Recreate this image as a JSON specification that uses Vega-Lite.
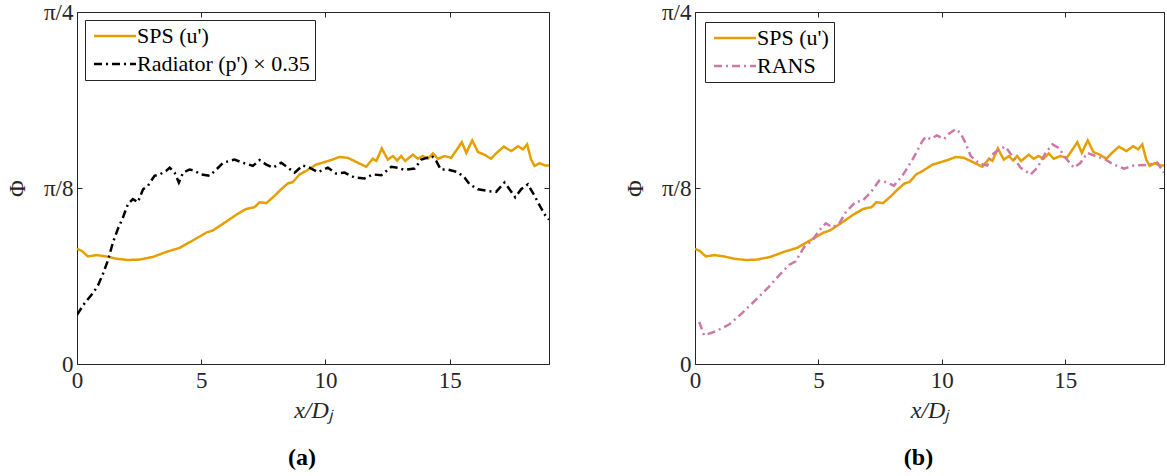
{
  "$schema": "https://vega.github.io/schema/vega-lite/v6.json",
  "padding": {"left": 5, "top": 0, "right": 0, "bottom": 0},
  "background": "white",
  "bounds": "flush",
  "spacing": 146,
  "config": {
    "font": "Times New Roman, Times, serif",
    "view": {"stroke": "#262626", "strokeWidth": 1},
    "axis": {
      "grid": false, "domain": false, "tickColor": "#262626", "tickSize": -5, "tickWidth": 1,
      "labelFont": "Times New Roman, Times, serif", "labelFontSize": 23, "labelColor": "#262626",
      "labelFlush": false, "labelOverlap": false,
      "titleFont": "Times New Roman, Times, serif", "titleFontWeight": "normal", "titleColor": "#262626"
    },
    "legend": {
      "orient": "top-left", "offset": 8, "strokeColor": "#262626", "fillColor": "white",
      "padding": 5, "labelFont": "Times New Roman, Times, serif", "labelFontSize": 22, "labelColor": "#000000",
      "symbolType": "M-1,0H5", "symbolSize": 196, "symbolStrokeWidth": 2.5, "labelOffset": 25,
      "rowPadding": 6, "title": null, "labelLimit": 400
    },
    "title": {"font": "Times New Roman, Times, serif", "fontSize": 24, "fontWeight": "bold", "color": "#000000"}
  },
  "datasets": {
    "lines": [
      {"series": "SPS (u')", "x": 0.0, "phi": 0.257},
      {"series": "SPS (u')", "x": 0.2, "phi": 0.252},
      {"series": "SPS (u')", "x": 0.44, "phi": 0.240},
      {"series": "SPS (u')", "x": 0.78, "phi": 0.243},
      {"series": "SPS (u')", "x": 1.18, "phi": 0.240},
      {"series": "SPS (u')", "x": 1.58, "phi": 0.235},
      {"series": "SPS (u')", "x": 2.05, "phi": 0.232},
      {"series": "SPS (u')", "x": 2.52, "phi": 0.233},
      {"series": "SPS (u')", "x": 3.06, "phi": 0.239},
      {"series": "SPS (u')", "x": 3.59, "phi": 0.250},
      {"series": "SPS (u')", "x": 4.13, "phi": 0.259},
      {"series": "SPS (u')", "x": 4.67, "phi": 0.276},
      {"series": "SPS (u')", "x": 5.2, "phi": 0.293},
      {"series": "SPS (u')", "x": 5.47, "phi": 0.298},
      {"series": "SPS (u')", "x": 5.88, "phi": 0.313},
      {"series": "SPS (u')", "x": 6.41, "phi": 0.333},
      {"series": "SPS (u')", "x": 6.81, "phi": 0.346},
      {"series": "SPS (u')", "x": 7.15, "phi": 0.350},
      {"series": "SPS (u')", "x": 7.35, "phi": 0.361},
      {"series": "SPS (u')", "x": 7.62, "phi": 0.359},
      {"series": "SPS (u')", "x": 7.95, "phi": 0.375},
      {"series": "SPS (u')", "x": 8.22, "phi": 0.390},
      {"series": "SPS (u')", "x": 8.49, "phi": 0.403},
      {"series": "SPS (u')", "x": 8.69, "phi": 0.406},
      {"series": "SPS (u')", "x": 8.96, "phi": 0.423},
      {"series": "SPS (u')", "x": 9.23, "phi": 0.431},
      {"series": "SPS (u')", "x": 9.63, "phi": 0.445},
      {"series": "SPS (u')", "x": 10.23, "phi": 0.455},
      {"series": "SPS (u')", "x": 10.57, "phi": 0.462},
      {"series": "SPS (u')", "x": 10.9, "phi": 0.460},
      {"series": "SPS (u')", "x": 11.31, "phi": 0.449},
      {"series": "SPS (u')", "x": 11.64, "phi": 0.440},
      {"series": "SPS (u')", "x": 11.91, "phi": 0.458},
      {"series": "SPS (u')", "x": 12.05, "phi": 0.453},
      {"series": "SPS (u')", "x": 12.27, "phi": 0.481},
      {"series": "SPS (u')", "x": 12.51, "phi": 0.456},
      {"series": "SPS (u')", "x": 12.72, "phi": 0.464},
      {"series": "SPS (u')", "x": 12.89, "phi": 0.454},
      {"series": "SPS (u')", "x": 13.05, "phi": 0.464},
      {"series": "SPS (u')", "x": 13.21, "phi": 0.453},
      {"series": "SPS (u')", "x": 13.52, "phi": 0.467},
      {"series": "SPS (u')", "x": 13.72, "phi": 0.458},
      {"series": "SPS (u')", "x": 13.92, "phi": 0.464},
      {"series": "SPS (u')", "x": 14.12, "phi": 0.458},
      {"series": "SPS (u')", "x": 14.33, "phi": 0.470},
      {"series": "SPS (u')", "x": 14.53, "phi": 0.458},
      {"series": "SPS (u')", "x": 14.8, "phi": 0.464},
      {"series": "SPS (u')", "x": 15.06, "phi": 0.460},
      {"series": "SPS (u')", "x": 15.3, "phi": 0.479},
      {"series": "SPS (u')", "x": 15.49, "phi": 0.495},
      {"series": "SPS (u')", "x": 15.67, "phi": 0.471},
      {"series": "SPS (u')", "x": 15.91, "phi": 0.499},
      {"series": "SPS (u')", "x": 16.14, "phi": 0.473},
      {"series": "SPS (u')", "x": 16.4, "phi": 0.467},
      {"series": "SPS (u')", "x": 16.67, "phi": 0.458},
      {"series": "SPS (u')", "x": 16.87, "phi": 0.470},
      {"series": "SPS (u')", "x": 17.18, "phi": 0.485},
      {"series": "SPS (u')", "x": 17.48, "phi": 0.475},
      {"series": "SPS (u')", "x": 17.75, "phi": 0.486},
      {"series": "SPS (u')", "x": 17.95, "phi": 0.479},
      {"series": "SPS (u')", "x": 18.12, "phi": 0.490},
      {"series": "SPS (u')", "x": 18.28, "phi": 0.456},
      {"series": "SPS (u')", "x": 18.42, "phi": 0.442},
      {"series": "SPS (u')", "x": 18.62, "phi": 0.448},
      {"series": "SPS (u')", "x": 18.84, "phi": 0.443},
      {"series": "SPS (u')", "x": 19.0, "phi": 0.443},

      {"series": "Radiator (p') × 0.35", "x": 0.0, "phi": 0.110},
      {"series": "Radiator (p') × 0.35", "x": 0.31, "phi": 0.136},
      {"series": "Radiator (p') × 0.35", "x": 0.64, "phi": 0.158},
      {"series": "Radiator (p') × 0.35", "x": 0.85, "phi": 0.176},
      {"series": "Radiator (p') × 0.35", "x": 1.05, "phi": 0.202},
      {"series": "Radiator (p') × 0.35", "x": 1.25, "phi": 0.232},
      {"series": "Radiator (p') × 0.35", "x": 1.45, "phi": 0.272},
      {"series": "Radiator (p') × 0.35", "x": 1.65, "phi": 0.302},
      {"series": "Radiator (p') × 0.35", "x": 1.85, "phi": 0.327},
      {"series": "Radiator (p') × 0.35", "x": 2.05, "phi": 0.357},
      {"series": "Radiator (p') × 0.35", "x": 2.25, "phi": 0.368},
      {"series": "Radiator (p') × 0.35", "x": 2.45, "phi": 0.361},
      {"series": "Radiator (p') × 0.35", "x": 2.66, "phi": 0.390},
      {"series": "Radiator (p') × 0.35", "x": 2.86, "phi": 0.398},
      {"series": "Radiator (p') × 0.35", "x": 3.12, "phi": 0.420},
      {"series": "Radiator (p') × 0.35", "x": 3.33, "phi": 0.423},
      {"series": "Radiator (p') × 0.35", "x": 3.59, "phi": 0.431},
      {"series": "Radiator (p') × 0.35", "x": 3.73, "phi": 0.438},
      {"series": "Radiator (p') × 0.35", "x": 3.93, "phi": 0.427},
      {"series": "Radiator (p') × 0.35", "x": 4.1, "phi": 0.405},
      {"series": "Radiator (p') × 0.35", "x": 4.27, "phi": 0.427},
      {"series": "Radiator (p') × 0.35", "x": 4.53, "phi": 0.434},
      {"series": "Radiator (p') × 0.35", "x": 4.73, "phi": 0.431},
      {"series": "Radiator (p') × 0.35", "x": 5.0, "phi": 0.423},
      {"series": "Radiator (p') × 0.35", "x": 5.34, "phi": 0.420},
      {"series": "Radiator (p') × 0.35", "x": 5.61, "phi": 0.434},
      {"series": "Radiator (p') × 0.35", "x": 5.88, "phi": 0.449},
      {"series": "Radiator (p') × 0.35", "x": 6.14, "phi": 0.453},
      {"series": "Radiator (p') × 0.35", "x": 6.34, "phi": 0.456},
      {"series": "Radiator (p') × 0.35", "x": 6.68, "phi": 0.449},
      {"series": "Radiator (p') × 0.35", "x": 7.08, "phi": 0.442},
      {"series": "Radiator (p') × 0.35", "x": 7.35, "phi": 0.455},
      {"series": "Radiator (p') × 0.35", "x": 7.62, "phi": 0.445},
      {"series": "Radiator (p') × 0.35", "x": 7.89, "phi": 0.438},
      {"series": "Radiator (p') × 0.35", "x": 8.22, "phi": 0.449},
      {"series": "Radiator (p') × 0.35", "x": 8.49, "phi": 0.438},
      {"series": "Radiator (p') × 0.35", "x": 8.76, "phi": 0.427},
      {"series": "Radiator (p') × 0.35", "x": 9.09, "phi": 0.443},
      {"series": "Radiator (p') × 0.35", "x": 9.36, "phi": 0.438},
      {"series": "Radiator (p') × 0.35", "x": 9.7, "phi": 0.428},
      {"series": "Radiator (p') × 0.35", "x": 10.1, "phi": 0.438},
      {"series": "Radiator (p') × 0.35", "x": 10.43, "phi": 0.425},
      {"series": "Radiator (p') × 0.35", "x": 10.77, "phi": 0.427},
      {"series": "Radiator (p') × 0.35", "x": 11.17, "phi": 0.416},
      {"series": "Radiator (p') × 0.35", "x": 11.58, "phi": 0.414},
      {"series": "Radiator (p') × 0.35", "x": 11.91, "phi": 0.423},
      {"series": "Radiator (p') × 0.35", "x": 12.25, "phi": 0.421},
      {"series": "Radiator (p') × 0.35", "x": 12.65, "phi": 0.440},
      {"series": "Radiator (p') × 0.35", "x": 12.92, "phi": 0.438},
      {"series": "Radiator (p') × 0.35", "x": 13.19, "phi": 0.433},
      {"series": "Radiator (p') × 0.35", "x": 13.59, "phi": 0.436},
      {"series": "Radiator (p') × 0.35", "x": 13.86, "phi": 0.456},
      {"series": "Radiator (p') × 0.35", "x": 14.29, "phi": 0.464},
      {"series": "Radiator (p') × 0.35", "x": 14.46, "phi": 0.453},
      {"series": "Radiator (p') × 0.35", "x": 14.64, "phi": 0.434},
      {"series": "Radiator (p') × 0.35", "x": 14.93, "phi": 0.434},
      {"series": "Radiator (p') × 0.35", "x": 15.33, "phi": 0.428},
      {"series": "Radiator (p') × 0.35", "x": 15.6, "phi": 0.416},
      {"series": "Radiator (p') × 0.35", "x": 15.8, "phi": 0.401},
      {"series": "Radiator (p') × 0.35", "x": 16.14, "phi": 0.390},
      {"series": "Radiator (p') × 0.35", "x": 16.54, "phi": 0.386},
      {"series": "Radiator (p') × 0.35", "x": 16.87, "phi": 0.384},
      {"series": "Radiator (p') × 0.35", "x": 17.21, "phi": 0.405},
      {"series": "Radiator (p') × 0.35", "x": 17.41, "phi": 0.390},
      {"series": "Radiator (p') × 0.35", "x": 17.64, "phi": 0.372},
      {"series": "Radiator (p') × 0.35", "x": 17.88, "phi": 0.390},
      {"series": "Radiator (p') × 0.35", "x": 18.15, "phi": 0.401},
      {"series": "Radiator (p') × 0.35", "x": 18.42, "phi": 0.375},
      {"series": "Radiator (p') × 0.35", "x": 18.69, "phi": 0.347},
      {"series": "Radiator (p') × 0.35", "x": 18.86, "phi": 0.331},
      {"series": "Radiator (p') × 0.35", "x": 19.0, "phi": 0.322},

      {"series": "RANS", "x": 0.17, "phi": 0.094},
      {"series": "RANS", "x": 0.37, "phi": 0.064},
      {"series": "RANS", "x": 0.84, "phi": 0.073},
      {"series": "RANS", "x": 1.38, "phi": 0.088},
      {"series": "RANS", "x": 1.92, "phi": 0.114},
      {"series": "RANS", "x": 2.46, "phi": 0.143},
      {"series": "RANS", "x": 2.94, "phi": 0.169},
      {"series": "RANS", "x": 3.41, "phi": 0.198},
      {"series": "RANS", "x": 3.81, "phi": 0.221},
      {"series": "RANS", "x": 4.08, "phi": 0.229},
      {"series": "RANS", "x": 4.42, "phi": 0.261},
      {"series": "RANS", "x": 4.76, "phi": 0.276},
      {"series": "RANS", "x": 5.03, "phi": 0.298},
      {"series": "RANS", "x": 5.3, "phi": 0.314},
      {"series": "RANS", "x": 5.57, "phi": 0.305},
      {"series": "RANS", "x": 5.84, "phi": 0.313},
      {"series": "RANS", "x": 6.1, "phi": 0.338},
      {"series": "RANS", "x": 6.51, "phi": 0.362},
      {"series": "RANS", "x": 6.78, "phi": 0.364},
      {"series": "RANS", "x": 7.12, "phi": 0.383},
      {"series": "RANS", "x": 7.46, "phi": 0.409},
      {"series": "RANS", "x": 7.72, "phi": 0.406},
      {"series": "RANS", "x": 8.06, "phi": 0.398},
      {"series": "RANS", "x": 8.4, "phi": 0.420},
      {"series": "RANS", "x": 8.81, "phi": 0.456},
      {"series": "RANS", "x": 9.21, "phi": 0.497},
      {"series": "RANS", "x": 9.34, "phi": 0.507},
      {"series": "RANS", "x": 9.55, "phi": 0.502},
      {"series": "RANS", "x": 9.8, "phi": 0.510},
      {"series": "RANS", "x": 10.09, "phi": 0.502},
      {"series": "RANS", "x": 10.29, "phi": 0.514},
      {"series": "RANS", "x": 10.56, "phi": 0.524},
      {"series": "RANS", "x": 10.76, "phi": 0.515},
      {"series": "RANS", "x": 10.96, "phi": 0.493},
      {"series": "RANS", "x": 11.17, "phi": 0.464},
      {"series": "RANS", "x": 11.51, "phi": 0.448},
      {"series": "RANS", "x": 11.84, "phi": 0.443},
      {"series": "RANS", "x": 12.04, "phi": 0.467},
      {"series": "RANS", "x": 12.32, "phi": 0.479},
      {"series": "RANS", "x": 12.58, "phi": 0.485},
      {"series": "RANS", "x": 12.85, "phi": 0.464},
      {"series": "RANS", "x": 13.19, "phi": 0.438},
      {"series": "RANS", "x": 13.6, "phi": 0.423},
      {"series": "RANS", "x": 13.87, "phi": 0.438},
      {"series": "RANS", "x": 14.2, "phi": 0.471},
      {"series": "RANS", "x": 14.48, "phi": 0.490},
      {"series": "RANS", "x": 14.74, "phi": 0.482},
      {"series": "RANS", "x": 15.01, "phi": 0.460},
      {"series": "RANS", "x": 15.35, "phi": 0.438},
      {"series": "RANS", "x": 15.62, "phi": 0.449},
      {"series": "RANS", "x": 15.89, "phi": 0.471},
      {"series": "RANS", "x": 16.23, "phi": 0.464},
      {"series": "RANS", "x": 16.57, "phi": 0.458},
      {"series": "RANS", "x": 16.97, "phi": 0.445},
      {"series": "RANS", "x": 17.38, "phi": 0.436},
      {"series": "RANS", "x": 17.78, "phi": 0.443},
      {"series": "RANS", "x": 18.32, "phi": 0.444},
      {"series": "RANS", "x": 18.73, "phi": 0.449},
      {"series": "RANS", "x": 19.0, "phi": 0.427}
    ]
  },
  "resolve": {"scale": {"color": "independent", "strokeDash": "independent"}, "legend": {"color": "independent", "strokeDash": "independent"}},
  "hconcat": [
    {
      "width": 472, "height": 352,
      "title": {"text": "(a)", "orient": "bottom", "offset": 24, "dx": -11},
      "data": {"name": "lines"},
      "transform": [{"filter": {"field": "series", "oneOf": ["SPS (u')", "Radiator (p') × 0.35"]}}],
      "layer": [
        {
          "mark": {"type": "line", "strokeWidth": 2.5, "clip": true},
          "encoding": {
            "x": {"field": "x", "type": "quantitative", "scale": {"domain": [0, 19], "nice": false, "zero": false},
                  "axis": {"orient": "bottom", "values": [0, 5, 10, 15], "labelPadding": 10, "title": "x/Dⱼ", "titleFontSize": 24, "titleFontStyle": "italic", "titlePadding": 6}},
            "y": {"field": "phi", "type": "quantitative", "scale": {"domain": [0, 0.785398], "nice": false, "zero": false},
                  "axis": {"orient": "left", "values": [0, 0.392699, 0.785398], "labelExpr": "datum.value < 0.1 ? '0' : (datum.value < 0.5 ? 'π/8' : 'π/4')", "labelPadding": 9, "title": "Φ", "titleFontSize": 23, "titlePadding": 14}},
            "color": {"field": "series", "type": "nominal", "scale": {"domain": ["SPS (u')", "Radiator (p') × 0.35"], "range": ["#E69F00", "#000000"]}, "legend": {"title": null}},
            "strokeDash": {"field": "series", "type": "nominal", "scale": {"domain": ["SPS (u')", "Radiator (p') × 0.35"], "range": [[1, 0], [8, 4, 2, 4]]}, "legend": {"title": null}}
          }
        },
        {
          "mark": {"type": "line", "opacity": 0},
          "encoding": {
            "x": {"field": "x", "type": "quantitative", "axis": {"orient": "top", "values": [0, 5, 10, 15], "labels": false, "title": null}},
            "y": {"field": "phi", "type": "quantitative", "axis": {"orient": "right", "values": [0, 0.392699, 0.785398], "labels": false, "title": null}}
          }
        }
      ],
      "resolve": {"axis": {"x": "independent", "y": "independent"}}
    },
    {
      "width": 469, "height": 352,
      "title": {"text": "(b)", "orient": "bottom", "offset": 24, "dx": -11},
      "data": {"name": "lines"},
      "transform": [{"filter": {"field": "series", "oneOf": ["SPS (u')", "RANS"]}}],
      "layer": [
        {
          "mark": {"type": "line", "strokeWidth": 2.5, "clip": true},
          "encoding": {
            "x": {"field": "x", "type": "quantitative", "scale": {"domain": [0, 19], "nice": false, "zero": false},
                  "axis": {"orient": "bottom", "values": [0, 5, 10, 15], "labelPadding": 10, "title": "x/Dⱼ", "titleFontSize": 24, "titleFontStyle": "italic", "titlePadding": 6}},
            "y": {"field": "phi", "type": "quantitative", "scale": {"domain": [0, 0.785398], "nice": false, "zero": false},
                  "axis": {"orient": "left", "values": [0, 0.392699, 0.785398], "labelExpr": "datum.value < 0.1 ? '0' : (datum.value < 0.5 ? 'π/8' : 'π/4')", "labelPadding": 9, "title": "Φ", "titleFontSize": 23, "titlePadding": 14}},
            "color": {"field": "series", "type": "nominal", "scale": {"domain": ["SPS (u')", "RANS"], "range": ["#E69F00", "#CC79A7"]}, "legend": {"title": null, "offset": 10}},
            "strokeDash": {"field": "series", "type": "nominal", "scale": {"domain": ["SPS (u')", "RANS"], "range": [[1, 0], [8, 4, 2, 4]]}, "legend": {"title": null, "offset": 10}}
          }
        },
        {
          "mark": {"type": "line", "opacity": 0},
          "encoding": {
            "x": {"field": "x", "type": "quantitative", "axis": {"orient": "top", "values": [0, 5, 10, 15], "labels": false, "title": null}},
            "y": {"field": "phi", "type": "quantitative", "axis": {"orient": "right", "values": [0, 0.392699, 0.785398], "labels": false, "title": null}}
          }
        }
      ],
      "resolve": {"axis": {"x": "independent", "y": "independent"}}
    }
  ]
}
